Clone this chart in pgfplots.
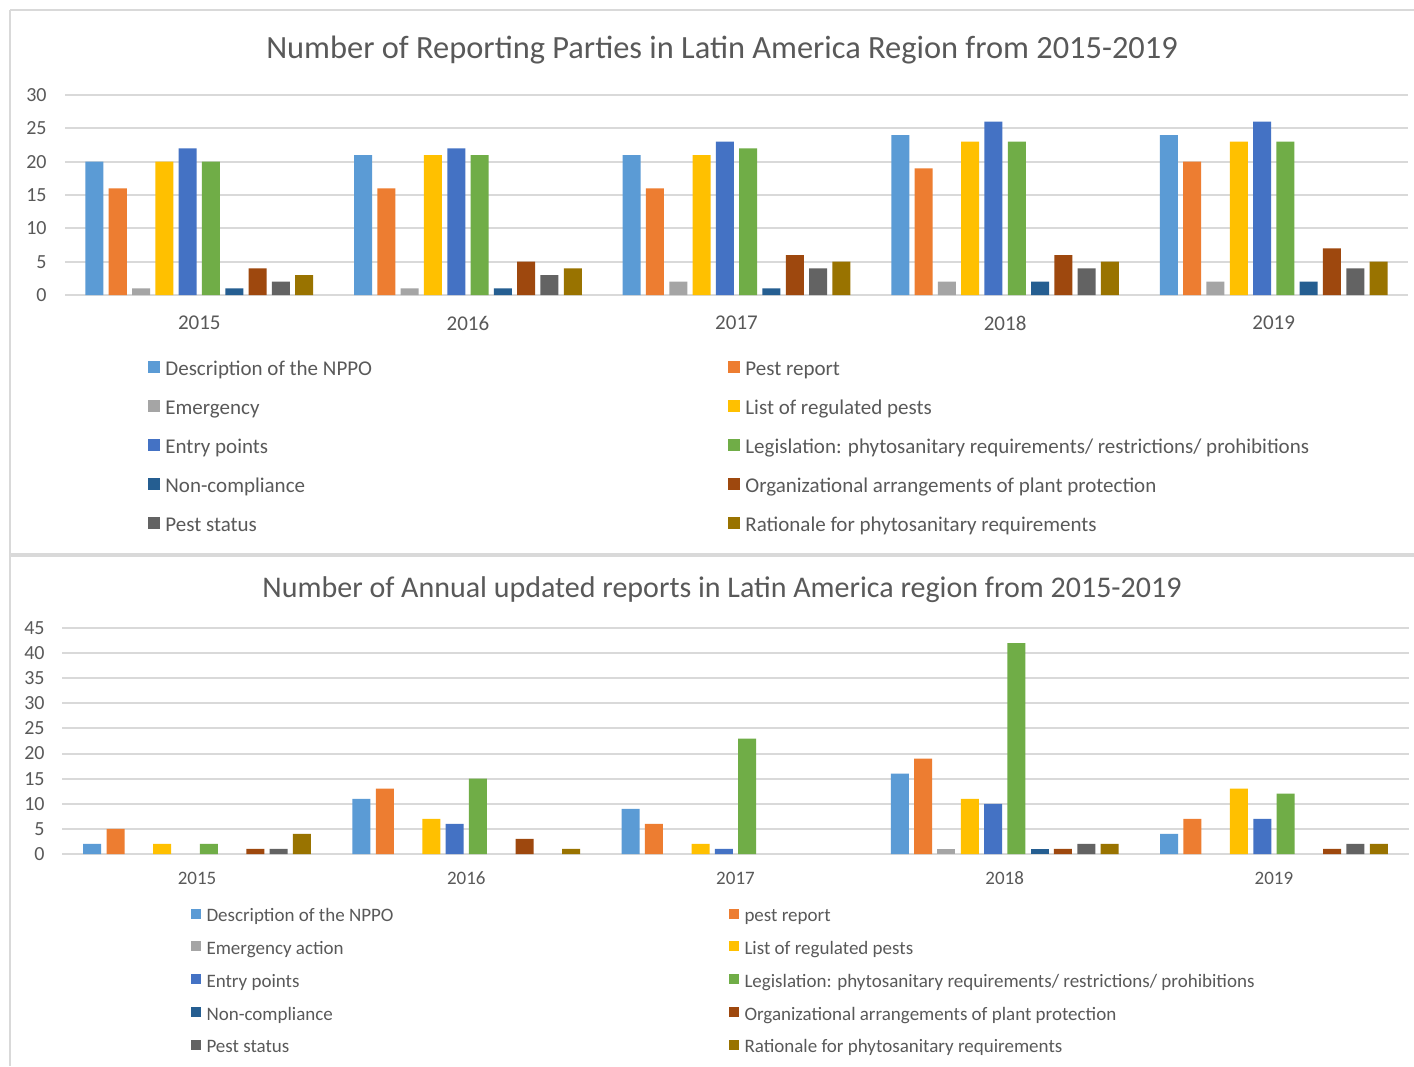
\documentclass[border=0pt]{standalone}
\usepackage{fontspec}
\setmainfont{Carlito}
\usepackage{pgfplots}
\usepackage{pgfplotstable}
\pgfplotsset{compat=1.18}
\definecolor{cA}{HTML}{5B9BD5}
\definecolor{cB}{HTML}{ED7D31}
\definecolor{cC}{HTML}{A5A5A5}
\definecolor{cD}{HTML}{FFC000}
\definecolor{cE}{HTML}{4472C4}
\definecolor{cF}{HTML}{70AD47}
\definecolor{cG}{HTML}{255E91}
\definecolor{cH}{HTML}{9E480E}
\definecolor{cI}{HTML}{636363}
\definecolor{cJ}{HTML}{997300}
\definecolor{txt}{HTML}{595959}
\definecolor{gridc}{HTML}{D9D9D9}

\pgfplotstableread{
x s1 s2 s3 s4 s5 s6 s7 s8 s9 s10
0 20 16 1 20 22 20 1 4 2 3
1 21 16 1 21 22 21 1 5 3 4
2 21 16 2 21 23 22 1 6 4 5
3 24 19 2 23 26 23 2 6 4 5
4 24 20 2 23 26 23 2 7 4 5
}\toptable

\pgfplotstableread{
x s1 s2 s3 s4 s5 s6 s7 s8 s9 s10
0 2 5 0 2 0 2 0 1 1 4
1 11 13 0 7 6 15 0 3 0 1
2 9 6 0 2 1 23 0 0 0 0
3 16 19 1 11 10 42 1 1 2 2
4 4 7 0 13 7 12 0 1 2 2
}\bottable

\pgfplotsset{
  excelbars/.style={
    scale only axis,
    ybar=2.65pt, bar width=9pt,
    xmin=-0.5, xmax=4.5, ymin=0,
    xtick={0,1,2,3,4}, xticklabels={2015,2016,2017,2018,2019},
    axis line style={draw=none},
    major tick length=0pt,
    ymajorgrids,
    grid style={color=gridc, line width=1pt},
    tick label style={text=txt},
    /pgf/number format/assume math mode=true,
    legend columns=2,
    legend cell align=left,
    every axis plot/.append style={draw=none, restrict y to domain=0.01:1000},
  }
}

\begin{document}
\begin{tikzpicture}
\useasboundingbox (0,0) rectangle (707pt,-533pt);
\fill[white] (0,0) rectangle (707pt,-533pt);
% panel borders
\draw[gridc, line width=1pt] (5pt,-5pt) -- (707pt,-5pt);
\draw[gridc, line width=1pt] (5pt,-5pt) -- (5pt,-533pt);
\draw[gridc, line width=2pt] (5pt,-277.25pt) -- (707pt,-277.25pt);

\node[text=txt, font=\fontsize{16.2}{18}\selectfont] at (361pt,-25pt) {Number of Reporting Parties in Latin America Region from 2015-2019};
\node[text=txt, font=\fontsize{15}{17}\selectfont] at (361pt,-295pt) {Number of Annual updated reports in Latin America region from 2015-2019};

\begin{axis}[excelbars,
  at={(32.5pt,-147.5pt)}, anchor=south west,
  width=671.5pt, height=100pt,
  ymax=30, ytick={0,5,...,30},
  xticklabel style={font=\fontsize{10.5}{12}\selectfont, yshift=-7pt},
  yticklabel style={font=\fontsize{10}{12}\selectfont, xshift=-5.7pt},
  legend image code/.code={\fill[#1] (0pt,-1.5pt) rectangle (6pt,4.5pt);},
  legend style={font=\fontsize{10.5}{12}\selectfont, text=txt, draw=none, fill=none,
    inner sep=0pt, nodes={inner sep=0pt, text height=8pt, text depth=3pt},
    row sep=8.5pt, at={(0.0618,-0.32)}, anchor=north west,
    /tikz/every odd column/.style={column sep=2.5pt},
    /tikz/every even column/.style={column sep=0pt}},
]
\addplot[fill=cA] table[x=x,y=s1] {\toptable};
\addlegendentry{\makebox[281.5pt][l]{Description of the NPPO}}
\addplot[fill=cB] table[x=x,y=s2] {\toptable};
\addlegendentry{Pest report}
\addplot[fill=cC] table[x=x,y=s3] {\toptable};
\addlegendentry{\makebox[281.5pt][l]{Emergency}}
\addplot[fill=cD] table[x=x,y=s4] {\toptable};
\addlegendentry{List of regulated pests}
\addplot[fill=cE] table[x=x,y=s5] {\toptable};
\addlegendentry{\makebox[281.5pt][l]{Entry points}}
\addplot[fill=cF] table[x=x,y=s6] {\toptable};
\addlegendentry{Legislation: phytosanitary requirements/ restrictions/ prohibitions}
\addplot[fill=cG] table[x=x,y=s7] {\toptable};
\addlegendentry{\makebox[281.5pt][l]{Non-compliance}}
\addplot[fill=cH] table[x=x,y=s8] {\toptable};
\addlegendentry{Organizational arrangements of plant protection}
\addplot[fill=cI] table[x=x,y=s9] {\toptable};
\addlegendentry{\makebox[281.5pt][l]{Pest status}}
\addplot[fill=cJ] table[x=x,y=s10] {\toptable};
\addlegendentry{Rationale for phytosanitary requirements}
\end{axis}

\begin{axis}[excelbars,
  at={(31.25pt,-427pt)}, anchor=south west,
  width=673pt, height=113pt,
  ymax=45, ytick={0,5,...,45},
  xticklabel style={font=\fontsize{9.5}{11}\selectfont, yshift=-5.3pt},
  yticklabel style={font=\fontsize{10}{12}\selectfont, xshift=-5.4pt},
  legend image code/.code={\fill[#1] (0pt,-0.7pt) rectangle (5pt,4.3pt);},
  legend style={font=\fontsize{9.5}{11}\selectfont, text=txt, draw=none, fill=none,
    inner sep=0pt, nodes={inner sep=0pt, text height=7pt, text depth=2.5pt},
    row sep=6.9pt, at={(0.0948,-0.236)}, anchor=north west,
    /tikz/every odd column/.style={column sep=3pt},
    /tikz/every even column/.style={column sep=0pt}},
]
\addplot[fill=cA] table[x=x,y=s1] {\bottable};
\addlegendentry{\makebox[261pt][l]{Description of the NPPO}}
\addplot[fill=cB] table[x=x,y=s2] {\bottable};
\addlegendentry{pest report}
\addplot[fill=cC] table[x=x,y=s3] {\bottable};
\addlegendentry{\makebox[261pt][l]{Emergency action}}
\addplot[fill=cD] table[x=x,y=s4] {\bottable};
\addlegendentry{List of regulated pests}
\addplot[fill=cE] table[x=x,y=s5] {\bottable};
\addlegendentry{\makebox[261pt][l]{Entry points}}
\addplot[fill=cF] table[x=x,y=s6] {\bottable};
\addlegendentry{Legislation: phytosanitary requirements/ restrictions/ prohibitions}
\addplot[fill=cG] table[x=x,y=s7] {\bottable};
\addlegendentry{\makebox[261pt][l]{Non-compliance}}
\addplot[fill=cH] table[x=x,y=s8] {\bottable};
\addlegendentry{Organizational arrangements of plant protection}
\addplot[fill=cI] table[x=x,y=s9] {\bottable};
\addlegendentry{\makebox[261pt][l]{Pest status}}
\addplot[fill=cJ] table[x=x,y=s10] {\bottable};
\addlegendentry{Rationale for phytosanitary requirements}
\end{axis}
\end{tikzpicture}
\end{document}
